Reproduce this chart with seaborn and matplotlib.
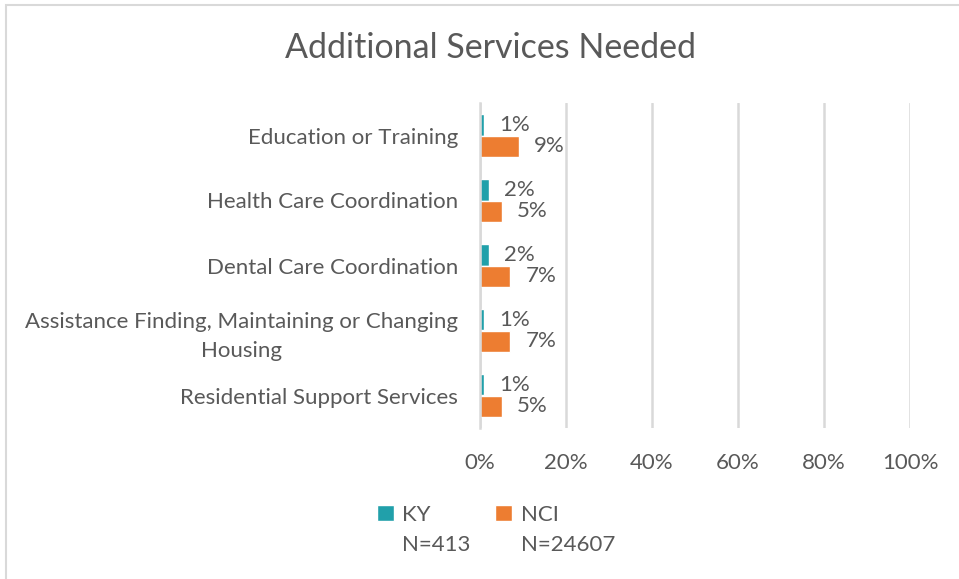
import matplotlib
matplotlib.use("Agg")
import matplotlib.pyplot as plt
from matplotlib.patches import Rectangle, Patch
import seaborn as sns
import pandas as pd

# Chart data
categories = [
    "Education or Training",
    "Health Care Coordination",
    "Dental Care Coordination",
    "Assistance Finding, Maintaining or Changing\nHousing",
    "Residential Support Services",
]
ky_values = [1, 2, 2, 1, 1]
nci_values = [9, 5, 7, 7, 5]
series_names = ["KY", "NCI"]
series_notes = ["N=413", "N=24607"]
x_ticks = [0, 20, 40, 60, 80, 100]

colors = {"KY": "#21A0AA", "NCI": "#ED7D31"}
text_color = "#595959"
grid_color = "#D9D9D9"
fs = 16

sns.set_style("white")
plt.rcParams["font.family"] = ["Lato", "DejaVu Sans"]

df = pd.DataFrame({
    "category": categories * 2,
    "series": ["KY"] * len(categories) + ["NCI"] * len(categories),
    "value": ky_values + nci_values,
})

fig = plt.figure(figsize=(9.59, 5.79), dpi=100)
ax = fig.add_axes([480 / 959, 1 - 428 / 579, 430 / 959, 325 / 579])

sns.barplot(
    data=df, y="category", x="value", hue="series", order=categories,
    hue_order=series_names, palette=colors, orient="h", width=0.66,
    saturation=1, legend=False, ax=ax,
)

ax.set_xlim(0, 100)
ax.set_xticks(x_ticks)
ax.set_xticklabels([f"{t}%" for t in x_ticks], color=text_color, fontsize=fs)
ax.set_xlabel("")
ax.set_ylabel("")
ax.tick_params(axis="x", length=0, pad=18)
ax.tick_params(axis="y", length=0, pad=16)
for lbl in ax.get_yticklabels():
    lbl.set_color(text_color)
    lbl.set_fontsize(fs)
    lbl.set_multialignment("center")
    lbl.set_linespacing(1.55)

ax.grid(axis="x", color=grid_color, linewidth=1.8)
ax.set_axisbelow(True)
for side in ["top", "right", "bottom"]:
    ax.spines[side].set_visible(False)
ax.spines["left"].set_color(grid_color)
ax.spines["left"].set_linewidth(1.8)

for container in ax.containers:
    ax.bar_label(container, labels=[f"{v:.0f}%" for v in container.datavalues],
                 padding=11, color=text_color, fontsize=fs)

fig.text(490 / 959, 1 - 48 / 579, "Additional Services Needed",
         ha="center", va="center", fontsize=24.5, color=text_color)

# Legend: colour keys with the sample sizes beneath
handles = [
    Patch(facecolor=colors["KY"]), Patch(facecolor="none", edgecolor="none"),
    Patch(facecolor=colors["NCI"]), Patch(facecolor="none", edgecolor="none"),
]
labels = [series_names[0], series_notes[0], series_names[1], series_notes[1]]
fig.legend(handles, labels, ncol=2, loc="center", bbox_to_anchor=(496 / 959, 1 - 530 / 579),
           frameon=False, fontsize=fs, labelcolor=text_color, handlelength=0.75,
           handleheight=0.75, handletextpad=0.4, columnspacing=1.1, labelspacing=0.45,
           borderpad=0)

# Chart frame
fig.add_artist(Rectangle((6 / 959, -0.05), 1.1, 1 - 5 / 579 + 0.05,
                         transform=fig.transFigure, fill=False,
                         edgecolor=grid_color, linewidth=1.5))

fig.savefig("out.png", dpi=100)
